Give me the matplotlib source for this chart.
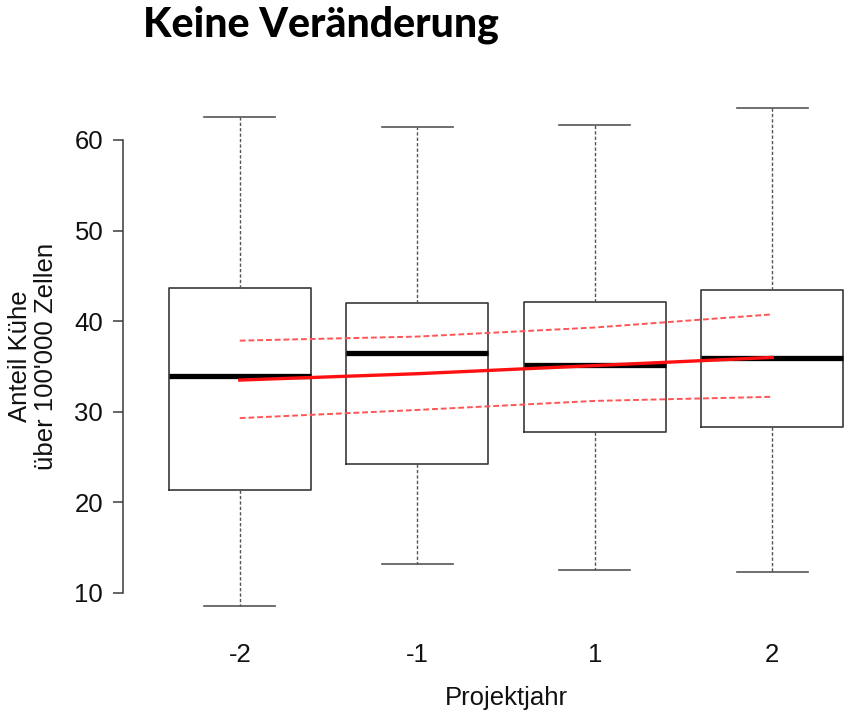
import numpy as np
import matplotlib
matplotlib.use('Agg')
import matplotlib.pyplot as plt

# Anteil Kuehe ueber 100'000 Zellen per Projektjahr (box statistics)
years = ['-2', '-1', '1', '2']
whislo = [8.6, 13.2, 12.5, 12.3]
q1 = [21.4, 24.2, 27.8, 28.3]
med = [33.9, 36.5, 35.2, 35.9]
q3 = [43.7, 42.0, 42.1, 43.4]
whishi = [62.5, 61.4, 61.6, 63.5]

# regression line and its confidence band
fit = [33.5, 34.2, 35.1, 36.0]
ci_up = [37.85, 38.3, 39.3, 40.75]
ci_lo = [29.3, 30.2, 31.2, 31.65]

plt.rcParams['font.family'] = ['Liberation Sans', 'DejaVu Sans']
txt_col = '#111111'
line_col = '#3a3a3a'

fig = plt.figure(figsize=(8.5, 7.26), dpi=100)
ax = fig.add_axes([151/850, (726-612.9)/726, 710/850, (612.9-99.2)/726])

pos = np.arange(1, len(years) + 1)
stats = []
for i in range(len(years)):
	stats.append({'whislo': whislo[i], 'q1': q1[i], 'med': med[i], 'q3': q3[i], 'whishi': whishi[i], 'fliers': []})

ax.bxp(stats, positions=pos, widths=0.8, capwidths=0.4, showfliers=False,
	boxprops=dict(color=line_col, lw=1.2),
	medianprops=dict(color='black', lw=3.8, solid_capstyle='butt'),
	whiskerprops=dict(color='#555555', lw=1.0, linestyle=(0, (2.4, 1.5))),
	capprops=dict(color='#555555', lw=1.2))

ax.plot(pos, fit, color='#ff1010', lw=2.4, zorder=5)
ax.plot(pos, ci_up, color='#ff5555', lw=1.4, linestyle=(0, (3, 1.5)), zorder=5)
ax.plot(pos, ci_lo, color='#ff5555', lw=1.4, linestyle=(0, (3, 1.5)), zorder=5)

ax.set_xlim(0.5, 4.5)
ax.set_ylim(7.8, 64.5)

for s in ['top', 'right', 'bottom']:
	ax.spines[s].set_visible(False)
ax.spines['left'].set_bounds(10, 60)
ax.spines['left'].set_position(('outward', 20.2))
ax.spines['left'].set_color(line_col)
ax.spines['left'].set_linewidth(1.1)

ax.set_yticks(np.arange(10, 61, 10))
ax.tick_params(axis='y', length=7.2, width=1.1, color=line_col, pad=7, labelsize=18.5, labelcolor=txt_col)
ax.set_xticks(pos)
ax.set_xticklabels(years)
ax.tick_params(axis='x', length=0, pad=22, labelsize=18.5, labelcolor=txt_col)

ax.set_xlabel('Projektjahr', fontsize=18.5, color=txt_col)
ax.xaxis.set_label_coords(0.5, -0.143)
ax.set_ylabel("Anteil Kühe\nüber 100'000 Zellen", fontsize=18.5, color=txt_col, va='center', ha='center', linespacing=1.15)
ax.yaxis.set_label_coords((33-151)/710, 0.5)

fig.text(143/850, 1 - 36/726, 'Keine Veränderung', fontsize=29.5, weight='black', family=['Lato', 'DejaVu Sans'], va='baseline', color='black')

fig.savefig('out.png', dpi=100)
